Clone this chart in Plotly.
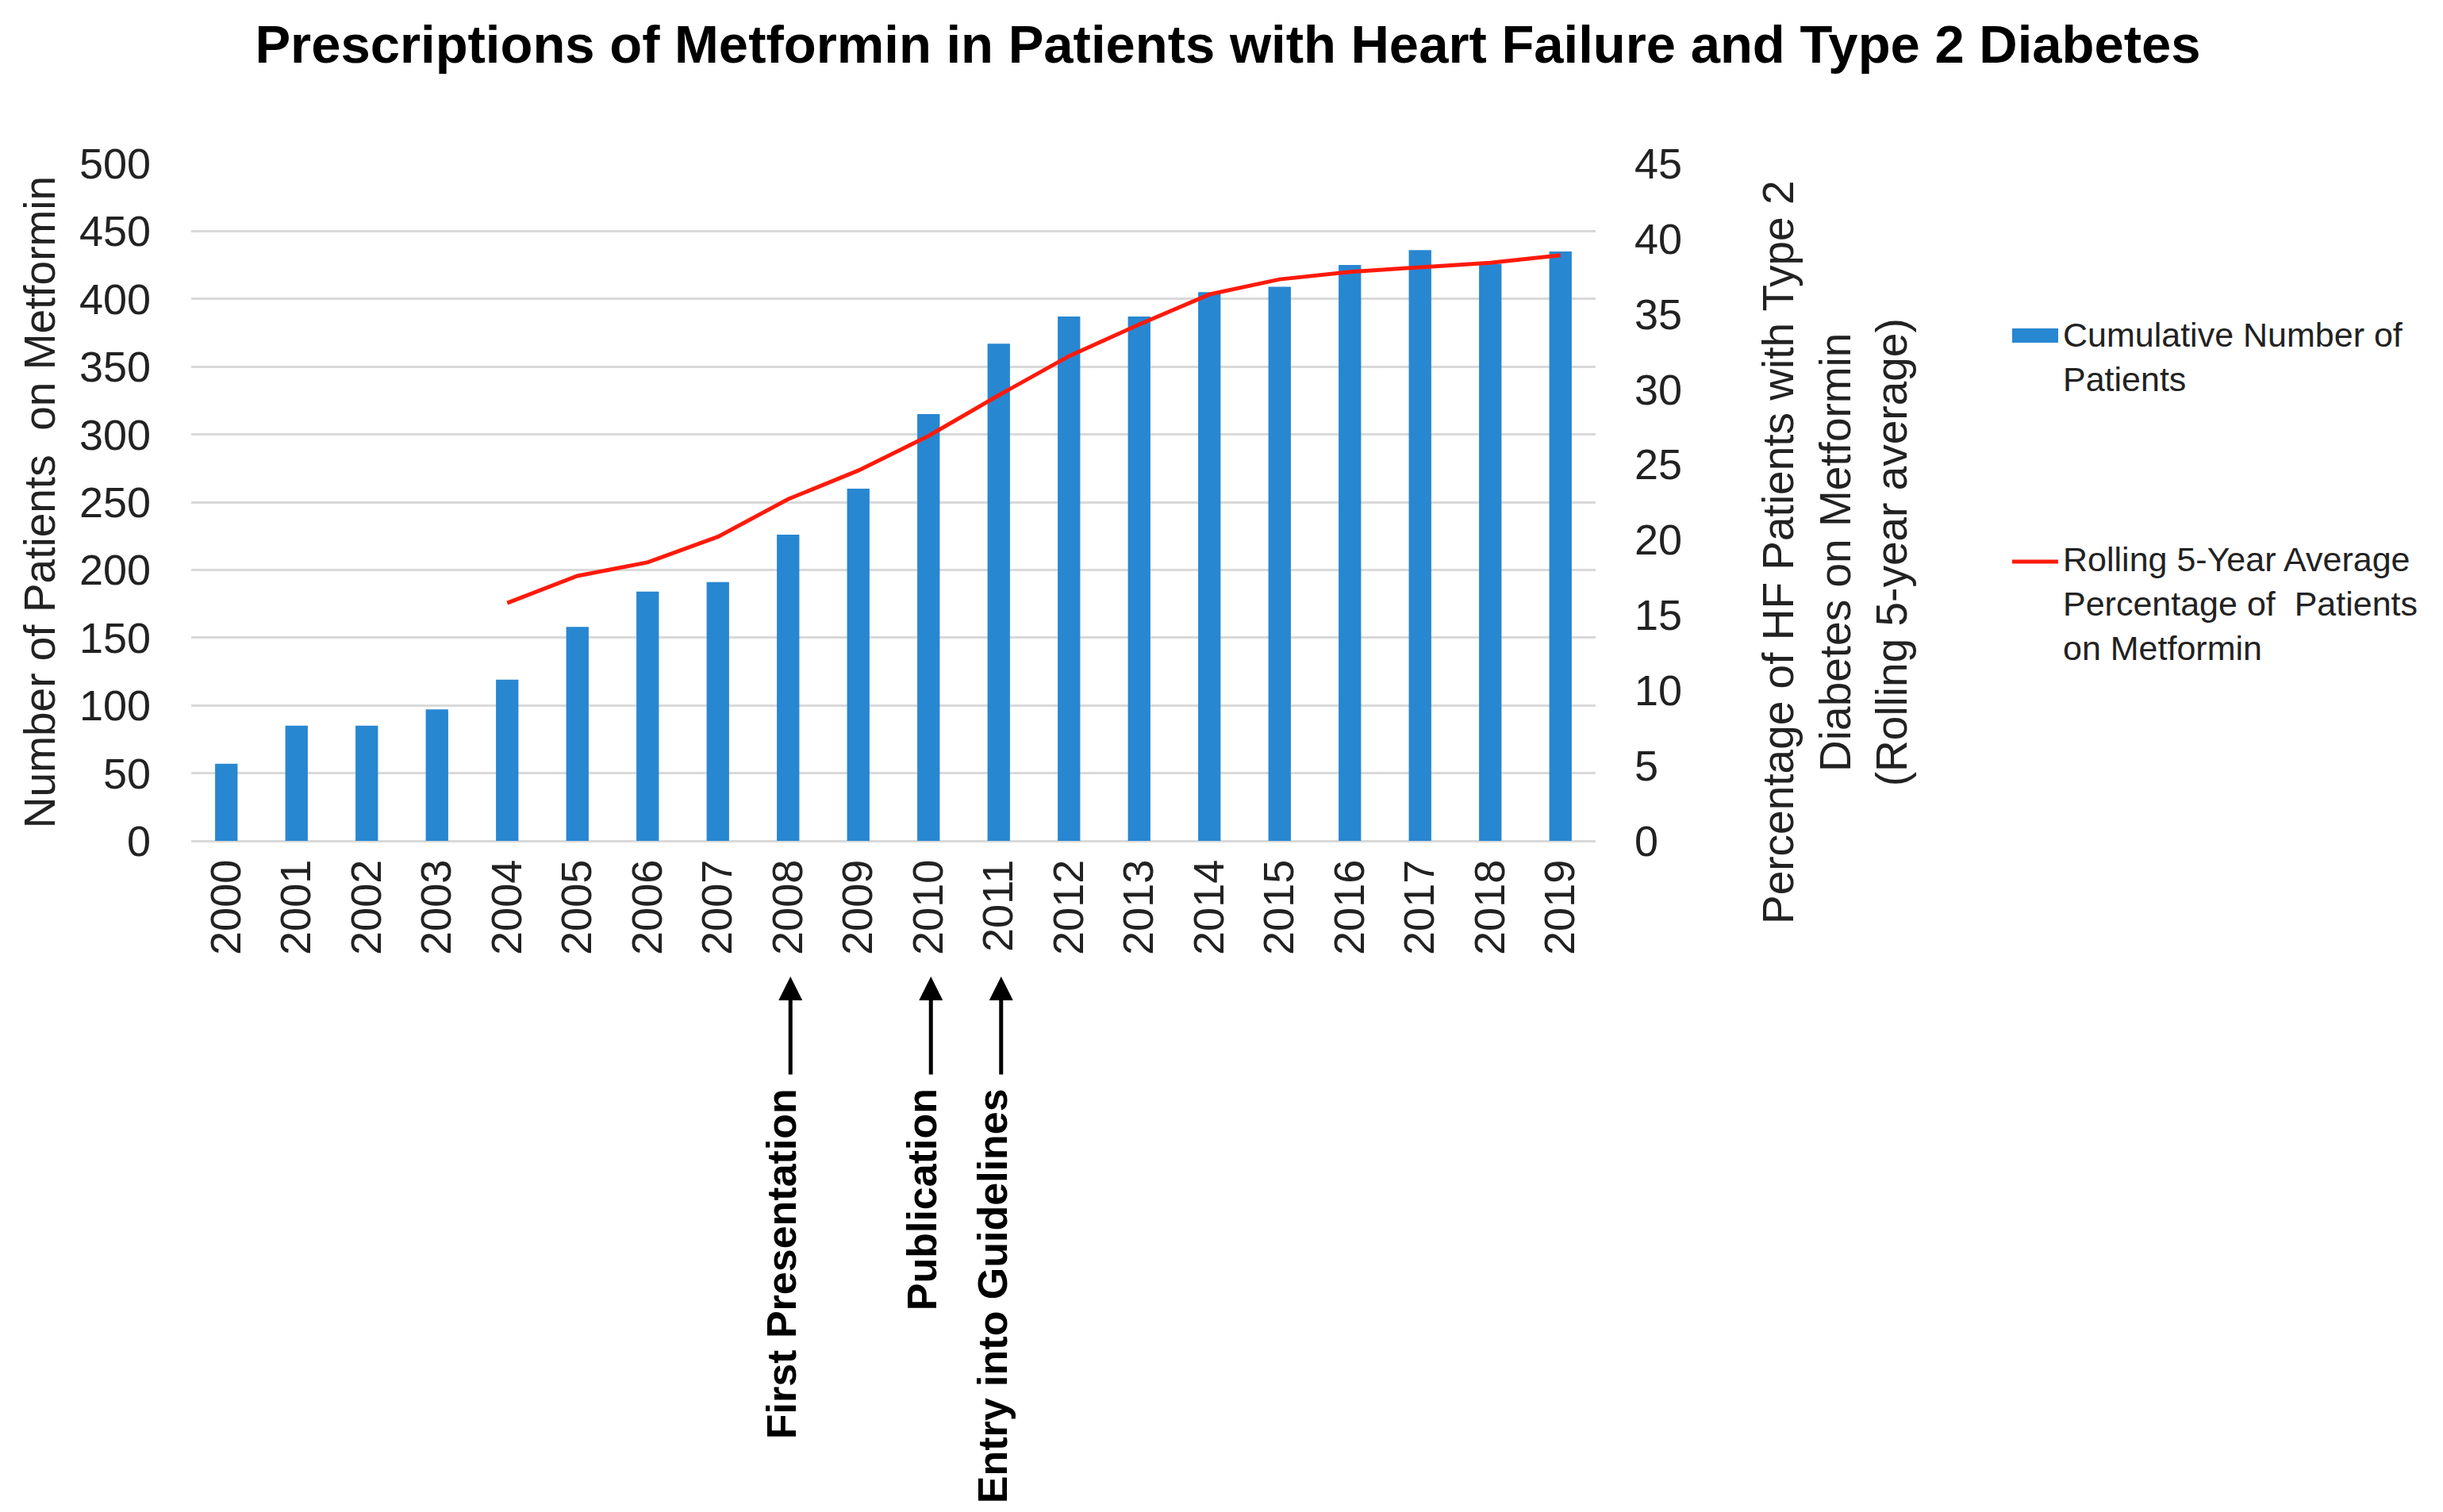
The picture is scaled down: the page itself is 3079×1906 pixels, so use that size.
import plotly.graph_objects as go

# ---- data ----
years = [str(y) for y in range(2000, 2020)]
cumulative_patients = [57, 85, 85, 97, 119, 158, 184, 191, 226, 260,
                       315, 367, 387, 387, 405, 409, 425, 436, 426, 435]
rolling_pct = [None, None, None, None, 15.8, 17.6, 18.5, 20.2, 22.7, 24.6,
               26.9, 29.6, 32.2, 34.3, 36.3, 37.3, 37.8, 38.1, 38.4, 38.9]
left_ticks = list(range(0, 501, 50))
right_ticks = list(range(0, 46, 5))
events = [("2008", "First Presentation"), ("2010", "Publication"),
          ("2011", "Entry into Guidelines")]

title = "Prescriptions of Metformin in Patients with Heart Failure and Type 2 Diabetes"
left_title = "Number of Patients  on Metformin"
right_title = ("Percentage of HF Patients with Type 2<br>Diabetes on Metformin"
               "<br>(Rolling 5-year average)")
legend_bar = "Cumulative Number of<br>Patients"
legend_line = "Rolling 5-Year Average<br>Percentage of  Patients<br>on Metformin"

FONT = "Liberation Sans, Arial, sans-serif"
BAR_COLOR = "#2887D1"
LINE_COLOR = "#FF1A0A"
TXT = "#222222"

W, H = 3079, 1906
L, R, T, B = 233, 3079 - 2003, 198, 1906 - 1052
PW, PH = W - L - R, H - T - B


def px_x(px):
    return (px - L) / PW


def px_y(py):
    return (H - B - py) / PH


fig = go.Figure()
fig.add_trace(go.Bar(x=years, y=cumulative_patients, name="Cumulative Number of Patients",
                     marker=dict(color=BAR_COLOR, line=dict(width=0)),
                     showlegend=False))
fig.add_trace(go.Scatter(x=years, y=rolling_pct, yaxis="y2", mode="lines",
                         name="Rolling 5-Year Average Percentage of Patients on Metformin",
                         line=dict(color=LINE_COLOR, width=5), showlegend=False))

fig.update_layout(
    width=W, height=H,
    margin=dict(l=L, r=R, t=T, b=B, autoexpand=False),
    paper_bgcolor="white", plot_bgcolor="white",
    font=dict(family=FONT, color=TXT, size=54),
    bargap=0.68,
    title=dict(text="<b>" + title + "</b>", x=0.5, xref="container", xanchor="center",
               y=1 - 48 / H, yref="container", yanchor="middle",
               font=dict(family=FONT, size=67, color="#000000")),
    xaxis=dict(type="category", tickangle=-90, showgrid=False, showline=False,
               zeroline=False, ticks="", ticklabelstandoff=12,
               tickfont=dict(size=54, color=TXT), range=[-0.5, 19.5]),
    yaxis=dict(range=[0, 500], tickvals=left_ticks, showgrid=True,
               gridcolor="#D9D9D9", gridwidth=3, zeroline=True,
               zerolinecolor="#D9D9D9", zerolinewidth=3, showline=False,
               ticks="", ticklabelstandoff=50, tickfont=dict(size=54, color=TXT),
               title=dict(text=left_title, font=dict(size=55, color=TXT), standoff=12)),
    yaxis2=dict(range=[0, 45], tickvals=right_ticks, overlaying="y", side="right",
                showgrid=False, zeroline=False, showline=False, ticks="",
                ticklabelstandoff=48, tickfont=dict(size=54, color=TXT)),
)

annotations = []
# event arrows and labels (x given as category index)
for yr, label in events:
    xi = years.index(yr)
    annotations.append(dict(x=xi, xref="x", y=px_y(1223), yref="paper", text="",
                            showarrow=True, ax=0, ay=125, arrowhead=2, arrowsize=1.2,
                            arrowwidth=5, arrowcolor="#000000", standoff=0, xshift=3))
    annotations.append(dict(x=xi, xref="x", y=px_y(1362), yref="paper",
                            text="<b>" + label + "</b>", showarrow=False,
                            textangle=-90, xanchor="center", yanchor="top", xshift=-8,
                            font=dict(family=FONT, size=52, color="#000000")))
# right axis title
annotations.append(dict(x=px_x(2304), xref="paper", y=px_y(688), yref="paper",
                        text=right_title, showarrow=False, textangle=-90,
                        xanchor="center", yanchor="middle", align="center",
                        font=dict(family=FONT, size=55, color=TXT)))
# legend texts
annotations.append(dict(x=px_x(2590), xref="paper", y=px_y(388), yref="paper",
                        text=legend_bar, showarrow=False, xanchor="left", yanchor="top",
                        align="left", font=dict(family=FONT, size=43, color=TXT)))
annotations.append(dict(x=px_x(2590), xref="paper", y=px_y(671), yref="paper",
                        text=legend_line, showarrow=False, xanchor="left", yanchor="top",
                        align="left", font=dict(family=FONT, size=43, color=TXT)))
fig.update_layout(annotations=annotations)

# legend symbols
fig.add_shape(type="rect", xref="paper", yref="paper",
              x0=px_x(2528), x1=px_x(2586), y0=px_y(424), y1=px_y(406),
              fillcolor=BAR_COLOR, line=dict(width=0))
fig.add_shape(type="line", xref="paper", yref="paper",
              x0=px_x(2528), x1=px_x(2586), y0=px_y(700), y1=px_y(700),
              line=dict(color=LINE_COLOR, width=5))

fig.write_html("out.html")
